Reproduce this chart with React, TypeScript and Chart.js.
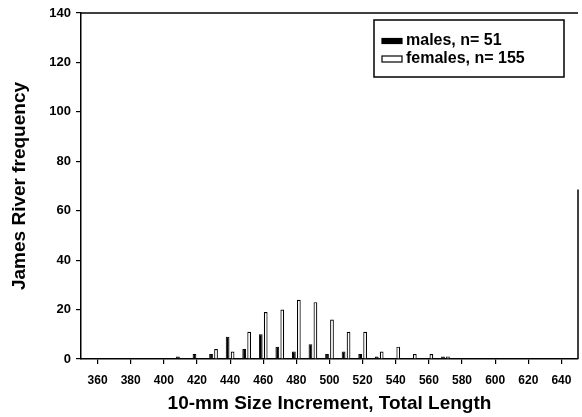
import React, { useEffect, useRef } from "react";
import { Chart, registerables } from "chart.js";

Chart.register(...registerables);

// Size classes (10-mm increments, total length, mm)
const sizeClasses = [410, 420, 430, 440, 450, 460, 470, 480, 490, 500, 510, 520, 530, 540, 550, 560, 570];
const males = [1, 2, 2, 9, 4, 10, 5, 3, 6, 2, 3, 2, 1, 0, 0, 0, 1];
const females = [0, 0, 4, 3, 11, 19, 20, 24, 23, 16, 11, 11, 3, 5, 2, 2, 1];
const xTickLabels = [360, 380, 400, 420, 440, 460, 480, 500, 520, 540, 560, 580, 600, 620, 640];
const yTickLabels = [0, 20, 40, 60, 80, 100, 120, 140];
const seriesLabels = ["males, n= 51", "females, n= 155"];

const FONT = "'Liberation Sans', Arial, Helvetica, sans-serif";

const framePlugin = {
  id: "frameAndLegend",
  afterDraw(chart: any) {
    const { ctx, chartArea } = chart;
    const { left, right, top, bottom } = chartArea;
    ctx.save();
    ctx.strokeStyle = "#000";
    ctx.lineWidth = 1.5;
    // top border
    ctx.beginPath();
    ctx.moveTo(left, top);
    ctx.lineTo(right, top);
    ctx.stroke();
    // right border (partial, as in the scan)
    ctx.beginPath();
    ctx.moveTo(right, top + (bottom - top) * 0.51);
    ctx.lineTo(right, bottom);
    ctx.stroke();

    // legend box
    const bx = right - 204;
    const by = top + 7;
    const bw = 190;
    const bh = 57;
    ctx.lineWidth = 1.5;
    ctx.fillStyle = "#fff";
    ctx.fillRect(bx, by, bw, bh);
    ctx.strokeRect(bx, by, bw, bh);

    const ds = chart.data.datasets;
    const rows = [by + 21, by + 39];
    ds.forEach((d: any, i: number) => {
      const cy = rows[i];
      const sh = i === 0 ? 5 : 6;
      ctx.fillStyle = d.backgroundColor;
      ctx.fillRect(bx + 8, cy - sh / 2, 20, sh);
      ctx.lineWidth = 1.2;
      ctx.strokeStyle = "#000";
      ctx.strokeRect(bx + 8, cy - sh / 2, 20, sh);
      ctx.fillStyle = "#000";
      ctx.font = `bold 16px ${FONT}`;
      ctx.textBaseline = "middle";
      ctx.textAlign = "left";
      ctx.fillText(d.label, bx + 32, cy);
    });
    ctx.restore();
  },
};

export default function App() {
  const canvasRef = useRef<HTMLCanvasElement | null>(null);

  useEffect(() => {
    document.body.style.margin = "0";
    const canvas = canvasRef.current;
    if (!canvas) return;
    const toPoints = (vals: number[]) =>
      sizeClasses.map((x, i) => ({ x, y: vals[i] === 0 ? null : vals[i] }));
    const chart = new Chart(canvas, {
      type: "bar",
      data: {
        datasets: [
          {
            label: seriesLabels[0],
            data: toPoints(males),
            backgroundColor: "#000",
            borderColor: "#000",
            borderWidth: 1,
            categoryPercentage: 0.6,
            barPercentage: 0.75,
          },
          {
            label: seriesLabels[1],
            data: toPoints(females),
            backgroundColor: "#fff",
            borderColor: "#000",
            borderWidth: 1.2,
            categoryPercentage: 0.6,
            barPercentage: 0.75,
          },
        ],
      },
      options: {
        animation: false,
        responsive: false,
        devicePixelRatio: 1,
        layout: { padding: { left: 0, top: 13, right: 4, bottom: 0 } },
        plugins: {
          legend: { display: false },
          tooltip: { enabled: false },
        },
        scales: {
          x: {
            type: "linear",
            min: 350,
            max: 650,
            offset: false,
            afterBuildTicks: (scale: any) => {
              scale.ticks = xTickLabels.map((v) => ({ value: v }));
            },
            afterFit: (scale: any) => {
              scale.height = 58;
            },
            ticks: {
              color: "#000",
              font: { family: FONT, size: 12, weight: "bold" },
              padding: 9,
              maxRotation: 0,
              autoSkip: false,
              callback: (v: any) => String(v),
            },
            grid: {
              offset: false,
              drawOnChartArea: false,
              drawTicks: true,
              tickLength: 5,
              color: "#000",
              lineWidth: 1.2,
            },
            border: { display: true, color: "#000", width: 1.5 },
            title: {
              display: true,
              text: "10-mm Size Increment, Total Length",
              color: "#000",
              font: { family: FONT, size: 19, weight: "bold" },
              padding: { top: 0, bottom: 2 },
            },
          },
          y: {
            min: 0,
            max: 140,
            afterBuildTicks: (scale: any) => {
              scale.ticks = yTickLabels.map((v) => ({ value: v }));
            },
            afterFit: (scale: any) => {
              scale.width = 81;
            },
            ticks: {
              color: "#000",
              font: { family: FONT, size: 13, weight: "bold" },
              padding: 5,
              callback: (v: any) => String(v),
            },
            grid: {
              drawOnChartArea: false,
              drawTicks: true,
              tickLength: 5,
              color: "#000",
              lineWidth: 1.2,
            },
            border: { display: true, color: "#000", width: 1.5 },
            title: {
              display: true,
              text: "James River frequency",
              color: "#000",
              font: { family: FONT, size: 19, weight: "bold" },
              padding: { top: 8, bottom: 0 },
            },
          },
        },
      },
      plugins: [framePlugin],
    } as any);
    return () => chart.destroy();
  }, []);

  return (
    <div style={{ position: "fixed", left: 0, top: 0, width: 582, height: 417, background: "#fff" }}>
      <canvas ref={canvasRef} width={582} height={417} />
    </div>
  );
}
